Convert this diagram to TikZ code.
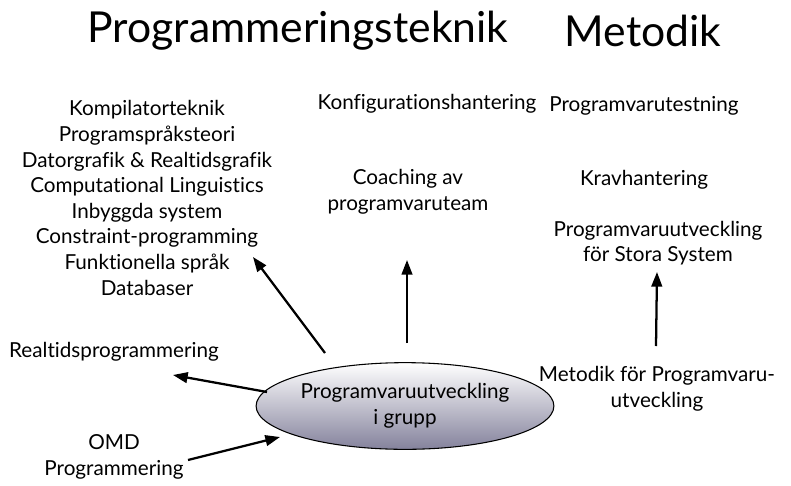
\documentclass[tikz,border=0pt]{standalone}
\usepackage{fontspec}
\setmainfont{Lato}[Ligatures=NoCommon]
\usepackage{tikz}
\usetikzlibrary{arrows.meta,shapes.geometric}

\definecolor{ellbot}{RGB}{132,130,156}

\tikzset{
  txt/.style={inner sep=0.75pt, align=center, font=\fontsize{15.5}{19.2}\selectfont},
  ttl/.style={inner sep=0.75pt, font=\fontsize{32}{36}\selectfont},
  arr/.style={line width=1.7pt, -{Triangle[length=11pt,width=8pt]}}
}

\begin{document}
\begin{tikzpicture}[x=0.75pt,y=0.75pt,yscale=-1,xscale=1]
        \useasboundingbox (0,0) rectangle (791,485);

        % titles
        \node[ttl] (tprog) at (298,31) {Programmeringsteknik};
        \node[ttl] (tmet) at (643,31) {Metodik};

        % centre
        \node[draw, line width=0.8pt, ellipse, minimum width=184.5pt, minimum height=65pt, inner sep=0pt,
              top color=white, bottom color=ellbot, txt] (ell) at (405,406)
              {Programvaruutveckling\\i grupp};

        % left side
        \node[txt] (kurser) at (147,198) {Kompilatorteknik\\Programspråksteori\\Datorgrafik \& Realtidsgrafik\\Computational Linguistics\\Inbyggda system\\Constraint-programming\\Funktionella språk\\Databaser};
        \node[txt] (rt) at (114,352) {Realtidsprogrammering};
        \node[txt] (omd) at (114,457) {OMD\\Programmering};

        % middle
        \node[txt] (konf) at (427,104) {Konfigurationshantering};
        \node[txt] (coach) at (408,192) {Coaching av\\programvaruteam};

        % right side
        \node[txt] (test) at (644,106) {Programvarutestning};
        \node[txt] (krav) at (644,180) {Kravhantering};
        \node[txt] (pus) at (658,243) {Programvaruutveckling\\för Stora System};
        \node[txt] (mpu) at (657,389) {Metodik för Programvaru-\\utveckling};

        % arrow ends
        \coordinate (a1s) at (325,353);
        \coordinate (a1e) at (253,257);
        \coordinate (a2s) at (267,392);
        \coordinate (a2e) at (173,375);
        \coordinate (a3s) at (188,460);
        \coordinate (a3e) at (280,437);
        \coordinate (a4s) at (407,343);
        \coordinate (a4e) at (407,260);
        \coordinate (a5s) at (656,346);
        \coordinate (a5e) at (657,272);

        \draw[arr] (a1s) -- (a1e);
        \draw[arr] (a2s) -- (a2e);
        \draw[arr] (a3s) -- (a3e);
        \draw[arr] (a4s) -- (a4e);
        \draw[arr] (a5s) -- (a5e);

\end{tikzpicture}
\end{document}
